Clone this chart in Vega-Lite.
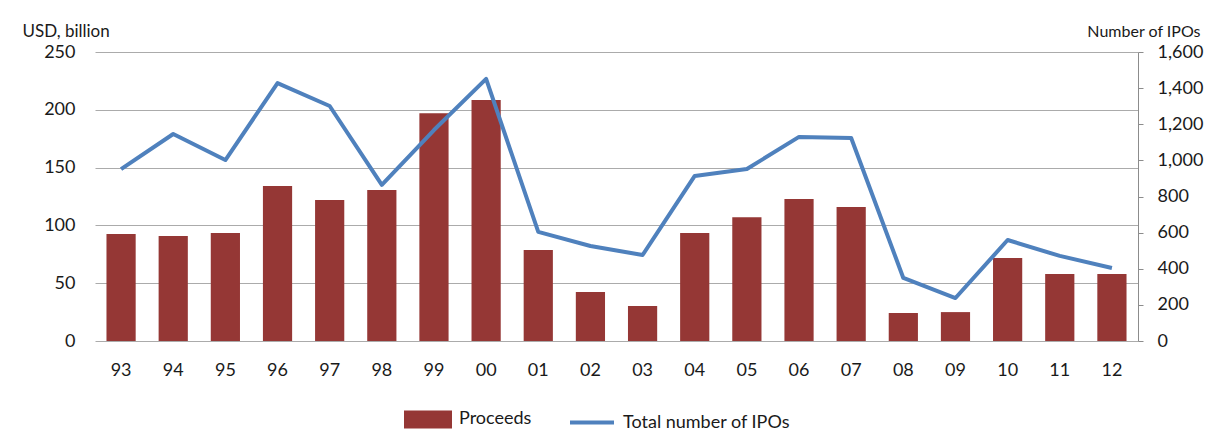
{
  "$schema": "https://vega.github.io/schema/vega-lite/v6.json",
  "width": 1043,
  "height": 289,
  "autosize": {"type": "none"},
  "padding": {"left": 95, "top": 52, "right": 78, "bottom": 105},
  "background": "white",
  "config": {
    "view": {"stroke": null},
    "font": "Lato",
    "axis": {"labelFont": "Lato", "titleFont": "Lato", "labelColor": "#1a1a1a", "titleColor": "#1a1a1a", "titleFontWeight": "normal"},
    "legend": {"labelFont": "Lato"}
  },
  "data": {
    "values": [
      {"year": "93", "proceeds": 92.6, "ipos": 952},
      {"year": "94", "proceeds": 90.8, "ipos": 1146},
      {"year": "95", "proceeds": 93.4, "ipos": 1002},
      {"year": "96", "proceeds": 134, "ipos": 1428},
      {"year": "97", "proceeds": 122, "ipos": 1301},
      {"year": "98", "proceeds": 130.6, "ipos": 864},
      {"year": "99", "proceeds": 197, "ipos": 1168},
      {"year": "00", "proceeds": 208.5, "ipos": 1451},
      {"year": "01", "proceeds": 78.7, "ipos": 604},
      {"year": "02", "proceeds": 42.4, "ipos": 526},
      {"year": "03", "proceeds": 30.3, "ipos": 476},
      {"year": "04", "proceeds": 93.4, "ipos": 914},
      {"year": "05", "proceeds": 107, "ipos": 952},
      {"year": "06", "proceeds": 122.8, "ipos": 1130},
      {"year": "07", "proceeds": 116, "ipos": 1124},
      {"year": "08", "proceeds": 24.2, "ipos": 349},
      {"year": "09", "proceeds": 25, "ipos": 238},
      {"year": "10", "proceeds": 71.8, "ipos": 559},
      {"year": "11", "proceeds": 58, "ipos": 471},
      {"year": "12", "proceeds": 58, "ipos": 404}
    ]
  },
  "encoding": {
    "x": {
      "field": "year",
      "type": "nominal",
      "sort": null,
      "scale": {"paddingInner": 0.44, "paddingOuter": 0.22},
      "axis": {"title": null, "labelAngle": 0, "labelFontSize": 18, "labelPadding": 20, "ticks": false, "domain": false}
    }
  },
  "layer": [
    {
      "mark": {"type": "bar"},
      "encoding": {
        "y": {
          "field": "proceeds",
          "type": "quantitative",
          "scale": {"domain": [0, 250], "nice": false},
          "axis": {
            "values": [0, 50, 100, 150, 200, 250],
            "grid": true,
            "gridColor": "#ababab",
            "gridWidth": 1,
            "domain": false,
            "ticks": false,
            "labelFontSize": 18,
            "labelPadding": 20,
            "title": "USD, billion",
            "titleAngle": 0,
            "titleFontSize": 17,
            "titleAlign": "left",
            "titleBaseline": "middle",
            "titleX": -73,
            "titleY": -21
          }
        },
        "color": {
          "datum": "Proceeds",
          "type": "nominal",
          "scale": {"domain": ["Proceeds", "Total number of IPOs"], "range": ["#953735", "#4F81BD"]},
          "legend": {
            "title": null,
            "orient": "none",
            "legendX": 309,
            "legendY": 343,
            "direction": "horizontal",
            "padding": 0,
            "labelFontSize": 18,
            "labelLimit": 400,
            "labelBaseline": "middle",
            "labelColor": "#1a1a1a",
            "labelOffset": 7,
            "columnPadding": 30,
            "symbolSize": 1936,
            "encode": {
              "symbols": {
                "update": {
                  "shape": {"signal": "datum.value === 'Proceeds' ? 'M-1,-0.32H1V0.32H-1Z' : 'M-1,0H1'"},
                  "fill": {"signal": "datum.value === 'Proceeds' ? '#953735' : 'transparent'"},
                  "stroke": {"signal": "datum.value === 'Proceeds' ? 'transparent' : '#4F81BD'"},
                  "strokeWidth": {"value": 4},
                  "opacity": {"value": 1},
                  "fillOpacity": {"value": 1},
                  "strokeOpacity": {"value": 1}
                }
              }
            }
          }
        }
      }
    },
    {
      "mark": {"type": "line", "strokeWidth": 4, "strokeJoin": "round"},
      "encoding": {
        "y": {
          "field": "ipos",
          "type": "quantitative",
          "scale": {"domain": [0, 1600], "nice": false},
          "axis": {
            "orient": "right",
            "values": [0, 200, 400, 600, 800, 1000, 1200, 1400, 1600],
            "format": ",.0f",
            "grid": false,
            "domain": true,
            "domainColor": "#8c8c8c",
            "ticks": true,
            "tickColor": "#8c8c8c",
            "tickSize": 5,
            "labelFontSize": 18,
            "labelPadding": 14,
            "title": "Number of IPOs",
            "titleAngle": 0,
            "titleFontSize": 16,
            "titleAlign": "right",
            "titleBaseline": "middle",
            "titleX": 62,
            "titleY": -21
          }
        },
        "color": {"datum": "Total number of IPOs", "type": "nominal"}
      }
    }
  ],
  "resolve": {"scale": {"y": "independent"}}
}
